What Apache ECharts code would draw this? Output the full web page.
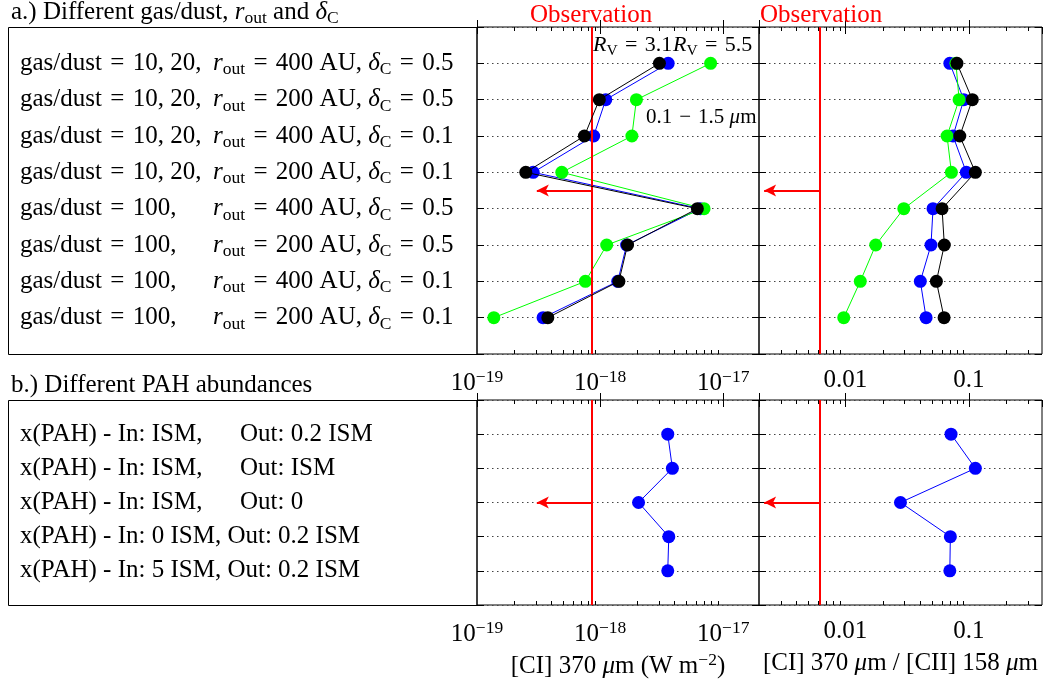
<!DOCTYPE html>
<html><head><meta charset="utf-8">
<script src="https://cdn.jsdelivr.net/npm/echarts@6/dist/echarts.min.js"></script>
<style>html,body{margin:0;padding:0;background:#fff}#c{width:1043px;height:688px}</style>
</head><body><div id="c"></div>
<script>
// ---------- data ----------
const gasDust = ['10, 20,', '10, 20,', '10, 20,', '10, 20,', '100,', '100,', '100,', '100,'];
const rOut = [400, 200, 400, 200, 400, 200, 400, 200];
const deltaC = ['0.5', '0.5', '0.1', '0.1', '0.5', '0.5', '0.1', '0.1'];
const pahIn = ['ISM,', 'ISM,', 'ISM,', '0 ISM,', '5 ISM,'];
const pahOut = ['0.2 ISM', 'ISM', '0', '0.2 ISM', '0.2 ISM'];

// panel a: [CI] 370 um flux (W m^-2)
const fluxA_RV31 = [3.03e-18, 9.85e-19, 7.45e-19, 2.49e-19, 6.16e-18, 1.67e-18, 1.42e-18, 3.76e-19];
const fluxA_RV55 = [3.57e-18, 1.11e-18, 8.86e-19, 2.86e-19, 6.5e-18, 1.64e-18, 1.39e-18, 3.44e-19];
const fluxA_grain = [7.89e-18, 1.97e-18, 1.81e-18, 4.88e-19, 6.98e-18, 1.13e-18, 7.59e-19, 1.37e-19];
// panel a: [CI] 370 / [CII] 158 ratio
const ratioA_RV31 = [0.080, 0.1065, 0.0843, 0.1127, 0.0606, 0.0632, 0.0545, 0.0629];
const ratioA_RV55 = [0.070, 0.0908, 0.0743, 0.0952, 0.0512, 0.0493, 0.0404, 0.045];
const ratioA_grain = [0.0785, 0.0832, 0.0665, 0.0721, 0.0297, 0.0176, 0.0132, 0.0097];
// panel b
const fluxB = [3.54e-18, 3.86e-18, 2.05e-18, 3.61e-18, 3.54e-18];
const ratioB = [0.0716, 0.1127, 0.0279, 0.0707, 0.070];

// observations (upper limits)
const obsFlux = 8.6e-19, obsFluxArrowTip = 3.06e-19;
const obsRatio = 0.0062, obsRatioArrowTip = 0.0022;
const arrowRowA = 4.5, arrowRowB = 3;

// axis ranges and tick values
const fluxRange = [1e-19, 1.95e-17];
const ratioRange = [0.002, 0.39];
const fluxMinorTicks = [2e-19,3e-19,4e-19,5e-19,6e-19,7e-19,8e-19,9e-19,2e-18,3e-18,4e-18,5e-18,6e-18,7e-18,8e-18,9e-18];
const ratioMinorTicks = [0.003,0.004,0.005,0.006,0.007,0.008,0.009,0.02,0.03,0.04,0.05,0.06,0.07,0.08,0.09,0.2,0.3];

// ---------- styling ----------
const FONT = 'Liberation Serif';
const EQ = '\u2004=\u2004';
function richSet(color, fs) {
  const ss = Math.round(fs * 0.7 * 2) / 2;
  return {
    n: {fontFamily: FONT, fontSize: fs, color},
    i: {fontFamily: FONT, fontSize: fs, fontStyle: 'italic', color},
    s: {fontFamily: FONT, fontSize: ss, padding: [Math.round(fs * 0.5), 0, 0, 0], color},
    p: {fontFamily: FONT, fontSize: ss, padding: [0, 0, Math.round(fs * 0.48), 0], color},
    g: {fontFamily: FONT, fontSize: fs, color, width: 193},
    h: {fontFamily: FONT, fontSize: fs, color, width: 220}
  };
}
const FS = 25;
const RICH = richSet('#000', FS);

const labelsA = gasDust.map((g, k) =>
  '{g|gas/dust' + EQ + g + '}{i|r}{s|out}{n|' + EQ + rOut[k] + ' AU, }{i|δ}{s|C}{n|' + EQ + deltaC[k] + '}');
const labelsB = pahIn.map((v, k) =>
  (k < 3 ? '{h|x(PAH) - In: ' + v + '}' : '{n|x(PAH) - In: ' + v + ' }') + '{n|Out: ' + pahOut[k] + '}');

function fluxFmt(v) {
  const e = Math.log10(v), r = Math.round(e);
  if (Math.abs(e - r) > 0.01) return '';
  return '{n|10}{p|\u2212' + (-r) + '}';
}
function ratioFmt(v) {
  const e = Math.log10(v), r = Math.round(e);
  if (Math.abs(e - r) > 0.01) return '';
  return r === -2 ? '{n|0.01}' : (r === -1 ? '{n|0.1}' : '');
}

const grids = [
  {left: 477, top: 27, width: 282, height: 327},
  {left: 759, top: 27, width: 283, height: 327},
  {left: 477, top: 400, width: 282, height: 205},
  {left: 759, top: 400, width: 283, height: 205}
].map(g => Object.assign(g, {show: true, borderColor: '#000', borderWidth: 1, containLabel: false}));

const xAxes = [], yAxes = [];
[0, 1, 2, 3].forEach(k => {
  const isFlux = (k % 2 === 0);
  const range = isFlux ? fluxRange : ratioRange;
  ['bottom', 'top'].forEach(pos => {
    const ax = {
      type: 'log', logBase: 10, gridIndex: k, position: pos,
      min: range[0], max: range[1],
      axisLine: {show: false},
      axisTick: {show: true, inside: true, length: 7, lineStyle: {color: '#000', width: 1}},
      splitLine: {show: false},
      axisLabel: {show: pos === 'bottom', margin: 14, formatter: isFlux ? fluxFmt : ratioFmt, rich: RICH,
                  showMinLabel: true, showMaxLabel: false}
    };
    if (pos === 'bottom' && k >= 2) {
      ax.name = isFlux ? '{n|[CI] 370 }{i|μ}{n|m (W m}{p|\u22122}{n|)}' : '{n|[CI] 370 }{i|μ}{n|m / [CII] 158 }{i|μ}{n|m}';
      ax.nameLocation = 'middle';
      ax.nameGap = 46;
      ax.nameTextStyle = {rich: RICH};
    }
    xAxes.push(ax);
  });
  const nRows = k < 2 ? 8 : 5;
  const labels = k === 0 ? labelsA : (k === 2 ? labelsB : null);
  ['left', 'right'].forEach(pos => {
    yAxes.push({
      type: 'value', gridIndex: k, position: pos, inverse: true,
      min: 0, max: nRows + 1, interval: 1,
      axisLine: {show: false},
      axisTick: {show: true, inside: true, length: 7, lineStyle: {color: '#000'}},
      splitLine: {show: pos === 'left', lineStyle: {color: '#444', type: [1.5, 3.5], width: 1}},
      axisLabel: {
        show: !!labels && pos === 'left', align: 'left', margin: 457, rich: RICH,
        formatter: v => (labels && v >= 1 && v <= nRows) ? labels[v - 1] : ''
      }
    });
  });
});

const series = [];
function dotLine(k, arr, color, z) {
  series.push({
    type: 'line', xAxisIndex: 2 * k, yAxisIndex: 2 * k, z,
    data: arr.map((v, i) => [v, i + 1]),
    symbol: 'circle', symbolSize: 13, showSymbol: true,
    lineStyle: {color, width: 1}, itemStyle: {color},
    animation: false, silent: true
  });
}
dotLine(0, fluxA_RV55, '#0000ff', 3);
dotLine(0, fluxA_grain, '#00ff00', 4);
dotLine(0, fluxA_RV31, '#000000', 5);
dotLine(1, ratioA_RV55, '#0000ff', 3);
dotLine(1, ratioA_grain, '#00ff00', 4);
dotLine(1, ratioA_RV31, '#000000', 5);
dotLine(2, fluxB, '#0000ff', 3);
dotLine(3, ratioB, '#0000ff', 3);

function obs(k, val, tip, row, nRows) {
  series.push({
    type: 'line', xAxisIndex: 2 * k, yAxisIndex: 2 * k, data: [], z: 6, silent: true,
    markLine: {silent: true, animation: false, symbol: 'none', label: {show: false},
      lineStyle: {color: '#ff0000', width: 2, type: 'solid'},
      data: [[{coord: [val, 0]}, {coord: [val, nRows + 1]}]]}
  });
  series.push({
    type: 'line', xAxisIndex: 2 * k, yAxisIndex: 2 * k, data: [], z: 6, silent: true,
    markLine: {silent: true, animation: false, symbol: ['none', 'arrow'], symbolSize: [9, 12], label: {show: false},
      lineStyle: {color: '#ff0000', width: 2, type: 'solid'},
      data: [[{coord: [val, row]}, {coord: [tip, row]}]]}
  });
}
obs(0, obsFlux, obsFluxArrowTip, arrowRowA, 8);
obs(1, obsRatio, obsRatioArrowTip, arrowRowA, 8);
obs(2, obsFlux, obsFluxArrowTip, arrowRowB, 5);
obs(3, obsRatio, obsRatioArrowTip, arrowRowB, 5);

function minorTicks(k, vals) {
  series.push({
    type: 'custom', xAxisIndex: 2 * k, yAxisIndex: 2 * k, silent: true, z: 2, animation: false,
    data: vals.map(v => [v, 1]),
    renderItem(params, api) {
      const x = Math.round(api.coord([api.value(0), 1])[0]) + 0.5;
      const cs = params.coordSys;
      return {type: 'group', children: [
        {type: 'line', shape: {x1: x, y1: cs.y + cs.height, x2: x, y2: cs.y + cs.height - 4}, style: {stroke: '#000', lineWidth: 1}},
        {type: 'line', shape: {x1: x, y1: cs.y, x2: x, y2: cs.y + 4}, style: {stroke: '#000', lineWidth: 1}}
      ]};
    }
  });
}
minorTicks(0, fluxMinorTicks);
minorTicks(1, ratioMinorTicks);
minorTicks(2, fluxMinorTicks);
minorTicks(3, ratioMinorTicks);

function txt(x, y, text, rich, extra) {
  return {type: 'text', x, y, silent: true, z: 10,
    style: Object.assign({text, rich, fontFamily: FONT, fontSize: FS, verticalAlign: 'middle', align: 'left'}, extra || {})};
}
const SMALL = richSet('#000', 22), BLUE = richSet('#0000ff', 22), GREEN = richSet('#00ff00', 21);

const graphic = [
  {type: 'rect', shape: {x: 8.5, y: 27.5, width: 468.5, height: 327}, style: {fill: 'none', stroke: '#000', lineWidth: 1}, silent: true},
  {type: 'rect', shape: {x: 8.5, y: 400.5, width: 468.5, height: 205}, style: {fill: 'none', stroke: '#000', lineWidth: 1}, silent: true},
  txt(11, 12, '{n|a.) Different gas/dust, }{i|r}{s|out}{n| and }{i|δ}{s|C}', RICH),
  txt(11, 385, '{n|b.) Different PAH abundances}', RICH),
  txt(530, 15, 'Observation', null, {fill: '#ff0000', fontSize: 25}),
  txt(760, 15, 'Observation', null, {fill: '#ff0000', fontSize: 25}),
  txt(593, 45, '{i|R}{s|V}{n|' + EQ + '3.1}', SMALL),
  txt(673, 45, '{i|R}{s|V}{n|' + EQ + '5.5}', BLUE),
  txt(646, 117, '{n|0.1\u2004\u2212\u20041.5 }{i|μ}{n|m}', GREEN)
];

const chart = echarts.init(document.getElementById('c'), null, {renderer: 'canvas'});
chart.setOption({
  animation: false,
  backgroundColor: '#fff',
  grid: grids, xAxis: xAxes, yAxis: yAxes, series, graphic
});
</script></body></html>
